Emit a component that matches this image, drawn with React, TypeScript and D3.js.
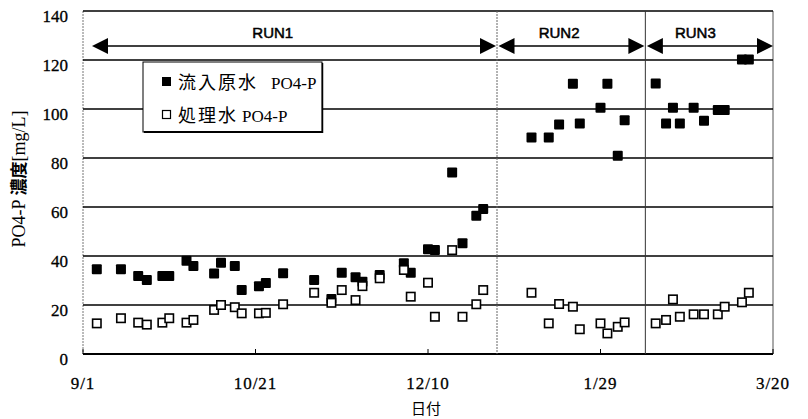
import React from 'react';
import * as d3 from 'd3';

// days counted from 9/1
const influentDays = [4, 11, 16, 18.5, 23, 25, 30, 32, 38, 40, 44, 46, 51, 53, 58, 67, 72, 75, 79, 81, 86, 93, 95, 100, 102, 107, 110, 114, 116, 130, 135, 138, 142, 144, 150, 152, 155, 157, 166, 169, 171, 173, 177, 180, 184, 186, 191, 193];
const influentValues = [34.6, 34.6, 31.8, 30.2, 31.8, 31.8, 38.1, 35.9, 32.9, 37.2, 35.9, 26.1, 27.7, 29.0, 33.0, 30.2, 22.5, 33.2, 31.3, 29.5, 32.2, 37.0, 33.2, 42.8, 42.4, 74.1, 45.2, 56.4, 59.2, 88.4, 88.4, 93.7, 110.3, 94.1, 100.5, 110.3, 80.9, 95.4, 110.4, 94.1, 100.5, 94.1, 100.5, 95.2, 99.6, 99.6, 120.2, 120.2];

const effluentDays = [4, 11, 16, 18.5, 23, 25, 30, 32, 38, 40, 44, 46, 51, 53, 58, 67, 72, 75, 79, 81, 86, 93, 95, 100, 102, 107, 110, 114, 116, 130, 135, 138, 142, 144, 150, 152, 155, 157, 166, 169, 171, 173, 177, 180, 184, 186, 191, 193];
const effluentValues = [12.5, 14.6, 12.8, 12.0, 12.8, 14.6, 12.8, 13.9, 18.0, 20.0, 19.1, 16.6, 16.6, 16.8, 20.3, 25.0, 20.9, 26.1, 22.0, 27.7, 30.9, 34.3, 23.4, 29.1, 15.2, 42.4, 15.2, 20.3, 26.1, 25.0, 12.5, 20.4, 19.3, 10.1, 12.5, 8.4, 11.1, 12.9, 12.5, 13.9, 22.3, 15.2, 16.2, 16.2, 16.2, 19.3, 21.1, 25.0];

const xTickDays = [0, 50, 100, 150, 200];
const xTickLabels = ['9/1', '10/21', '12/10', '1/29', '3/20'];
const yTicks = [0, 20, 40, 60, 80, 100, 120, 140];

const runLabels = ['RUN1', 'RUN2', 'RUN3'];
const runStarts = [2.6, 120, 163];
const runEnds = [120, 163, 200];
const runLabelDays = [55, 138, 177.5];
const runArrowValue = 125.7;

const seriesNames = ['流入原水', '処理水'];
const seriesSuffix = 'PO4-P';

const serif = "'Liberation Serif', 'Times New Roman', serif";
const cjk = "'Noto Sans CJK JP', sans-serif";
const sans = "'Liberation Sans', Arial, sans-serif";

export default function App() {
  const W = 808, H = 419;
  const x = d3.scaleLinear().domain([0, 200]).range([83, 773]);
  const y = d3.scaleLinear().domain([0, 140]).range([354, 11]);
  const S = 10;

  const arrowY = y(runArrowValue);
  const head = 16, hh = 8;

  const influent = influentDays.map((d, i) => ({ d, v: influentValues[i] }));
  const effluent = effluentDays.map((d, i) => ({ d, v: effluentValues[i] }));

  return (
    <svg width={W} height={H} style={{ position: 'absolute', left: 0, top: 0, background: '#fff' }}>
      {/* left & right borders */}
      <line x1={x(0)} x2={x(0)} y1={y(140)} y2={y(0)} stroke="#777" strokeWidth={1} strokeDasharray="2,1" />
      <line x1={x(200)} x2={x(200)} y1={y(140)} y2={y(0)} stroke="#555" strokeWidth={1} />
      {/* gridlines */}
      {yTicks.map(t => (
        <line key={t} x1={x(0)} x2={x(200)} y1={y(t)} y2={y(t)} stroke="#000" strokeWidth={t === 0 ? 2.2 : 1.6} />
      ))}
      {/* run separators */}
      {runEnds.slice(0, 2).map((e, i) => (
        <line key={i} x1={x(e)} x2={x(e)} y1={y(140)} y2={y(0)} stroke={i === 0 ? '#666' : '#333'} strokeWidth={1} strokeDasharray={i === 0 ? '2,1' : undefined} />
      ))}
      {/* x ticks */}
      {xTickDays.map(t => (
        <line key={t} x1={x(t)} x2={x(t)} y1={y(0)} y2={y(0) - 5} stroke="#000" strokeWidth={1} />
      ))}
      {/* y tick labels */}
      {yTicks.map(t => (
        <text key={t} x={68} y={y(t) + 11} textAnchor="end" style={{ fontFamily: serif, fontSize: 17 }} stroke="#000" strokeWidth={0.3} fill="#000">{t}</text>
      ))}
      {/* x tick labels */}
      {xTickDays.map((t, i) => (
        <text key={t} x={x(t)} y={389} textAnchor="middle" style={{ fontFamily: serif, fontSize: 17, letterSpacing: 1 }} stroke="#000" strokeWidth={0.3} fill="#000">{xTickLabels[i]}</text>
      ))}
      {/* axis titles */}
      <text x={426} y={414} textAnchor="middle" style={{ fontFamily: cjk, fontSize: 15 }} fill="#000">日付</text>
      <text transform="translate(25,179) rotate(-90)" textAnchor="middle" fill="#000">
        <tspan style={{ fontFamily: serif, fontSize: 18 }}>PO4-P </tspan>
        <tspan style={{ fontFamily: cjk, fontSize: 17, fontWeight: 700 }}>濃度</tspan>
        <tspan style={{ fontFamily: serif, fontSize: 18 }}>[mg/L]</tspan>
      </text>
      {/* run arrows */}
      {runLabels.map((r, i) => {
        const a = x(runStarts[i]) + (i === 0 ? 0 : 1.5);
        const b = x(runEnds[i]) - (i === 2 ? 0 : 1);
        return (
          <g key={r}>
            <line x1={a + head - 2} x2={b - head + 2} y1={arrowY} y2={arrowY} stroke="#000" strokeWidth={1.6} />
            <path d={`M${a},${arrowY} L${a + head},${arrowY - hh} L${a + head},${arrowY + hh} Z`} fill="#000" />
            <path d={`M${b},${arrowY} L${b - head},${arrowY - hh} L${b - head},${arrowY + hh} Z`} fill="#000" />
            <text x={x(runLabelDays[i])} y={38} textAnchor="middle" style={{ fontFamily: sans, fontSize: 15 }} stroke="#000" strokeWidth={0.5} fill="#000">{r}</text>
          </g>
        );
      })}
      {/* legend */}
      <g>
        <rect x={143} y={62} width={179} height={70} fill="#fff" stroke="#000" strokeWidth={1} />
        <line x1={144} x2={323} y1={132} y2={132} stroke="#000" strokeWidth={2} />
        <line x1={322.5} x2={322.5} y1={63} y2={133} stroke="#000" strokeWidth={1.5} />
        <rect x={162} y={77} width={9} height={9} fill="#000" />
        <text x={178} y={89} style={{ fontFamily: cjk, fontSize: 18, letterSpacing: 2 }} fill="#000">{seriesNames[0]}</text>
        <text x={271} y={89} style={{ fontFamily: serif, fontSize: 17 }} fill="#000">{seriesSuffix}</text>
        <rect x={162.5} y={110.5} width={8} height={8} fill="#fff" stroke="#000" strokeWidth={1.2} />
        <text x={178} y={122} style={{ fontFamily: cjk, fontSize: 18, letterSpacing: 2 }} fill="#000">{seriesNames[1]}</text>
        <text x={242} y={122} style={{ fontFamily: serif, fontSize: 17 }} fill="#000">{seriesSuffix}</text>
      </g>
      {/* data */}
      {influent.map((p, i) => (
        <rect key={'i' + i} x={x(p.d) - S / 2} y={y(p.v) - S / 2} width={S} height={S} rx={1} fill="#000" />
      ))}
      {effluent.map((p, i) => (
        <rect key={'e' + i} x={x(p.d) - S / 2 + 0.8} y={y(p.v) - S / 2 + 0.8} width={S - 1.6} height={S - 1.6} fill="#fff" stroke="#000" strokeWidth={1.6} />
      ))}
    </svg>
  );
}
